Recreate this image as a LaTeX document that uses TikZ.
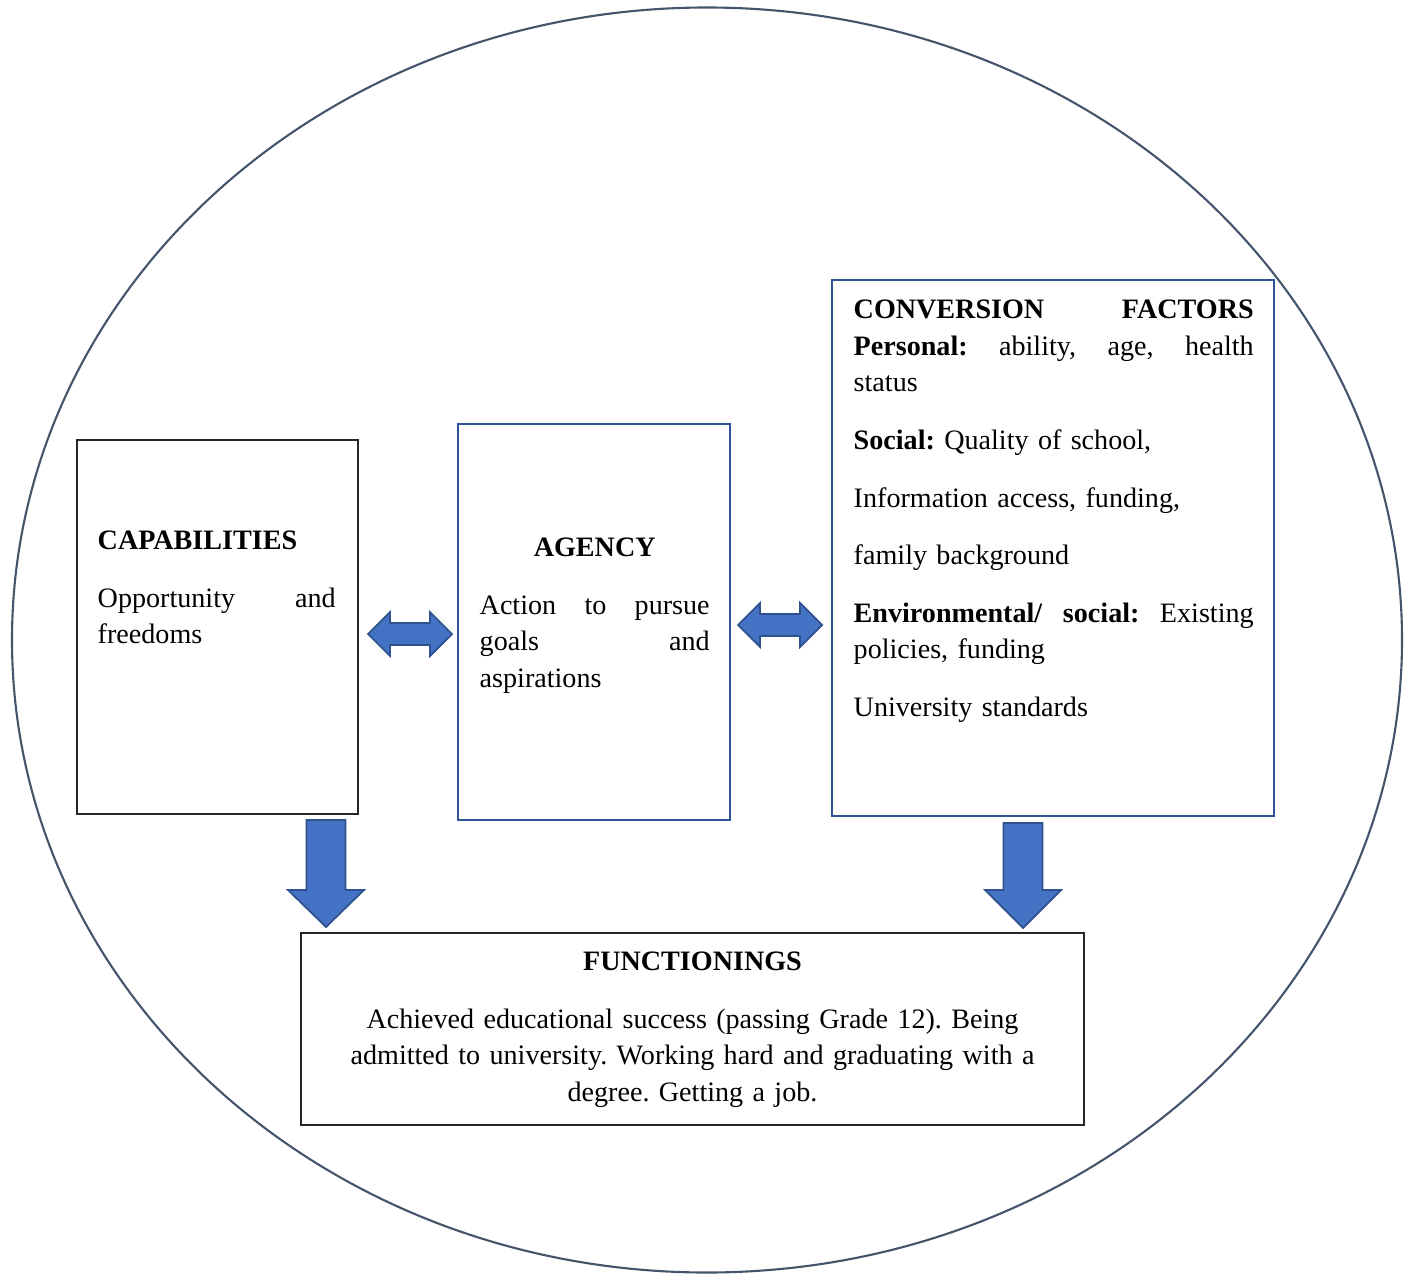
\documentclass[tikz,border=0pt]{standalone}
\usepackage{fontspec}
\setmainfont{Liberation Serif}
\usepackage{tikz}
\usetikzlibrary{calc}
\definecolor{ringcol}{HTML}{44546A}
\definecolor{boxgray}{HTML}{262626}
\definecolor{boxblue}{HTML}{2F5597}
\definecolor{arrowfill}{HTML}{4472C4}
\definecolor{arrowline}{HTML}{2F528F}
\frenchspacing

\begin{document}
\begin{tikzpicture}
[scale=1,
box/.style={draw=boxgray,line width=0.6pt,inner sep=0pt,outer sep=0pt},
bluebox/.style={draw=boxblue,line width=0.6pt,inner sep=0pt,outer sep=0pt},
txt/.style={inner sep=0pt,anchor=north west,font=\fontsize{8}{10.4}\selectfont,execute at begin node={\parindent=0pt}},
blockarrow/.style={fill=arrowfill,draw=arrowline,line width=0.5pt,line join=miter},
ring/.style={draw=ringcol,line width=0.6pt},]

%Arrow sizes
\def\hl{0.22}
\def\hh{0.22}
\def\sh{0.11}

\useasboundingbox (0,0) rectangle (14.15,12.75);

%Outer circle
\draw[ring] (7.07,6.35) ellipse [x radius=6.95, y radius=6.325];

%Boxes
\node (cap) at (2.175,6.48)[box,minimum width=2.81cm,minimum height=3.74cm] {};
\node (agency) at (5.94,6.53)[bluebox,minimum width=2.72cm,minimum height=3.96cm] {};
\node (conv) at (10.53,7.27)[bluebox,minimum width=4.42cm,minimum height=5.36cm] {};
\node (func) at (6.925,2.46)[box,minimum width=7.83cm,minimum height=1.92cm] {};

%Box texts
\node (captxt) at (0.97,7.516)[txt,text width=2.38cm]
{\strut\textbf{CAPABILITIES}\\[6pt]
Opportunity\hfill and\\
freedoms};

\node (agtxt) at (4.79,7.446)[txt,text width=2.30cm]
{\strut\hfill\textbf{AGENCY}\hfill\null\\[6pt]
Action\hfill to\hfill pursue\\
goals\hfill and\\
aspirations};

\node (convtxt) at (8.53,9.826)[txt,text width=4.00cm]
{\strut\textbf{CONVERSION}\hfill\textbf{FACTORS}\\
\textbf{Personal:}\hfill ability,\hfill age,\hfill health\\
status\\[6pt]
\textbf{Social:} Quality of school,\\[6pt]
Information access, funding,\\[6pt]
family background\\[6pt]
\textbf{Environmental/}\hfill\textbf{social:}\hfill Existing\\
policies, funding\\[6pt]
University standards};

\node (functxt) at (6.925,3.306)[txt,anchor=north,text width=7.4cm,align=center]
{\strut\textbf{FUNCTIONINGS}\\[6pt]
Achieved educational success (passing Grade 12). Being\\
admitted to university. Working hard and graduating with a\\
degree. Getting a job.};

%Double arrows
\coordinate (caL) at (3.68,6.41);
\coordinate (caR) at (4.52,6.41);
\coordinate (acL) at (7.38,6.50);
\coordinate (acR) at (8.22,6.50);

\draw[blockarrow] (caL) -- ++(\hl,\hh) -- ++(0,-\hh+\sh) -- ($(caR)+(-\hl,\sh)$) -- ++(0,\hh-\sh) -- (caR)
 -- ++(-\hl,-\hh) -- ++(0,\hh-\sh) -- ($(caL)+(\hl,-\sh)$) -- ++(0,-\hh+\sh) -- cycle;
\draw[blockarrow] (acL) -- ++(\hl,\hh) -- ++(0,-\hh+\sh) -- ($(acR)+(-\hl,\sh)$) -- ++(0,\hh-\sh) -- (acR)
 -- ++(-\hl,-\hh) -- ++(0,\hh-\sh) -- ($(acL)+(\hl,-\sh)$) -- ++(0,-\hh+\sh) -- cycle;

%Down arrows
\coordinate (fa) at (3.26,4.55);
\coordinate (fb) at (3.26,3.48);
\coordinate (fc) at (10.23,4.52);
\coordinate (fd) at (10.23,3.47);

\draw[blockarrow] (fb) -- ++(-0.38,0.37) -- ++(0.185,0) -- ($(fa)+(-0.195,0)$) -- ($(fa)+(0.195,0)$)
 -- ($(fb)+(0.195,0.37)$) -- ++(0.185,0) -- cycle;
\draw[blockarrow] (fd) -- ++(-0.38,0.38) -- ++(0.185,0) -- ($(fc)+(-0.195,0)$) -- ($(fc)+(0.195,0)$)
 -- ($(fd)+(0.195,0.38)$) -- ++(0.185,0) -- cycle;

\end{tikzpicture}
\end{document}
